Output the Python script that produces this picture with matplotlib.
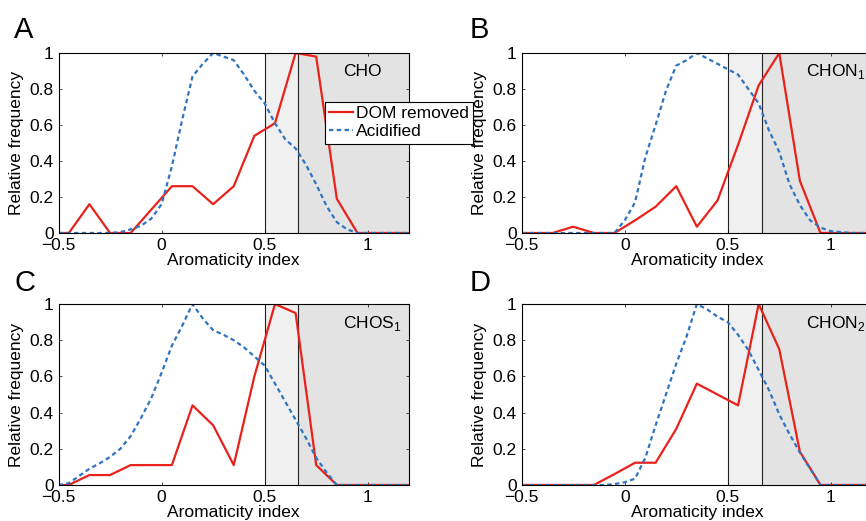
import numpy as np
import matplotlib
matplotlib.use("Agg")
import matplotlib.pyplot as plt

plt.rcParams['font.family'] = ['Liberation Sans', 'DejaVu Sans']
plt.rcParams['mathtext.fontset'] = 'custom'
plt.rcParams['mathtext.rm'] = 'Liberation Sans'

# bin centres of the two histograms
red_x = np.round(np.arange(-0.55, 1.26, 0.1), 2)
blue_x = np.round(np.arange(-0.5, 1.201, 0.05), 2)

# DOM removed (red, solid)
red_A = [0, 0, 0.16, 0, 0, 0.13, 0.26, 0.26, 0.16, 0.26, 0.54, 0.61, 1.0, 0.98, 0.19, 0, 0, 0, 0]
red_B = [0, 0, 0, 0.035, 0, 0, 0.07, 0.146, 0.26, 0.035, 0.18, 0.49, 0.82, 1.0, 0.29, 0, 0, 0, 0]
red_C = [0, 0, 0.055, 0.055, 0.11, 0.11, 0.11, 0.44, 0.33, 0.11, 0.6, 1.0, 0.95, 0.11, 0, 0, 0, 0, 0]
red_D = [0, 0, 0, 0, 0, 0.06, 0.123, 0.123, 0.31, 0.56, 0.5, 0.44, 1.0, 0.75, 0.184, 0, 0, 0, 0]

# Acidified (blue, dashed)
blue_A = [0, 0, 0, 0, 0, 0, 0.005, 0.02, 0.04, 0.08,
          0.16, 0.37, 0.63, 0.87, 0.94, 1.0, 0.98, 0.96, 0.88, 0.79,
          0.72, 0.61, 0.52, 0.47, 0.38, 0.27, 0.15, 0.06, 0.02, 0,
          0, 0, 0, 0, 0]
blue_B = [0, 0, 0, 0, 0, 0, 0, 0, 0, 0,
          0.07, 0.17, 0.42, 0.6, 0.79, 0.93, 0.96, 1.0, 0.97, 0.94,
          0.91, 0.88, 0.8, 0.72, 0.57, 0.45, 0.27, 0.155, 0.07, 0.03,
          0.01, 0.005, 0, 0, 0]
blue_C = [0, 0.01, 0.05, 0.09, 0.12, 0.155, 0.2, 0.27, 0.37, 0.48,
          0.62, 0.77, 0.88, 1.0, 0.92, 0.855, 0.83, 0.8, 0.76, 0.71,
          0.66, 0.56, 0.46, 0.36, 0.26, 0.15, 0.07, 0, 0, 0,
          0, 0, 0, 0, 0]
blue_D = [0, 0, 0, 0, 0, 0, 0, 0, 0, 0.005,
          0.015, 0.035, 0.15, 0.33, 0.5, 0.67, 0.82, 1.0, 0.97, 0.93,
          0.9, 0.83, 0.745, 0.635, 0.525, 0.39, 0.28, 0.18, 0.09, 0,
          0, 0, 0, 0, 0]

panels = ['A', 'B', 'C', 'D']
classes = ['CHO', 'CHON$_1$', 'CHOS$_1$', 'CHON$_2$']
reds = [red_A, red_B, red_C, red_D]
blues = [blue_A, blue_B, blue_C, blue_D]

zone_lo, zone_mid, zone_hi = 0.5, 0.664, 1.2

red_col = '#e8221b'
blue_col = '#2e74c0'
fs = 12.5

fig = plt.figure(figsize=(8.66, 5.21), dpi=100)
W, H = 866, 521
# axes boxes in pixels: left, top, right, bottom
boxes = [(58.5, 53, 409, 233), (521.7, 53, 872, 233),
         (58.5, 304, 409, 485), (521.7, 304, 872, 485)]
letter_pos = [(14, 38), (470, 38), (14, 291), (470, 291)]

for i in range(4):
    l, t, r, b = boxes[i]
    ax = fig.add_axes([l / W, 1 - b / H, (r - l) / W, (b - t) / H])
    ax.axvspan(zone_lo, zone_mid, color='#f0f0f0', lw=0, zorder=0)
    ax.axvspan(zone_mid, zone_hi, color='#e3e3e3', lw=0, zorder=0)
    ax.axvline(zone_lo, color='#222222', lw=0.8, zorder=1)
    ax.axvline(zone_mid, color='#222222', lw=0.8, zorder=1)
    ax.plot(red_x, reds[i], color=red_col, lw=1.6, zorder=3, label='DOM removed')
    ax.plot(blue_x, blues[i], color=blue_col, lw=1.6, dashes=(2.0, 1.5), zorder=4,
            label='Acidified')
    ax.set_xlim(-0.5, 1.2)
    ax.set_ylim(0, 1)
    ax.set_xticks([-0.5, 0, 0.5, 1])
    ax.set_xticklabels(['\u22120.5', '0', '0.5', '1'])
    ax.set_yticks([0, 0.2, 0.4, 0.6, 0.8, 1])
    ax.set_yticklabels(['0', '0.2', '0.4', '0.6', '0.8', '1'])
    ax.tick_params(direction='in', top=True, right=True, length=2.5, width=0.5,
                   labelsize=fs, pad=3.5, colors='black')
    for s in ax.spines.values():
        s.set_linewidth(0.8)
        s.set_zorder(5)
    ax.set_xlabel('Aromaticity index', fontsize=fs, labelpad=0)
    ax.set_ylabel('Relative frequency', fontsize=fs, labelpad=4)
    ax.text(0.88, 0.87, classes[i], fontsize=fs, va='baseline', ha='left', zorder=6)
    fig.text(letter_pos[i][0] / W, 1 - letter_pos[i][1] / H, panels[i],
             fontsize=21, va='baseline', ha='left')
    if i == 0:
        h, lab = ax.get_legend_handles_labels()

leg = fig.legend(h, lab, loc='upper left', bbox_to_anchor=(325 / W, 1 - 102 / H),
                 fontsize=fs, frameon=True, fancybox=False, edgecolor='black',
                 framealpha=1, borderaxespad=0, borderpad=0.25, labelspacing=0.15,
                 handlelength=1.35, handletextpad=0.2)
leg.get_frame().set_linewidth(0.8)

fig.savefig('out.png', dpi=100)
